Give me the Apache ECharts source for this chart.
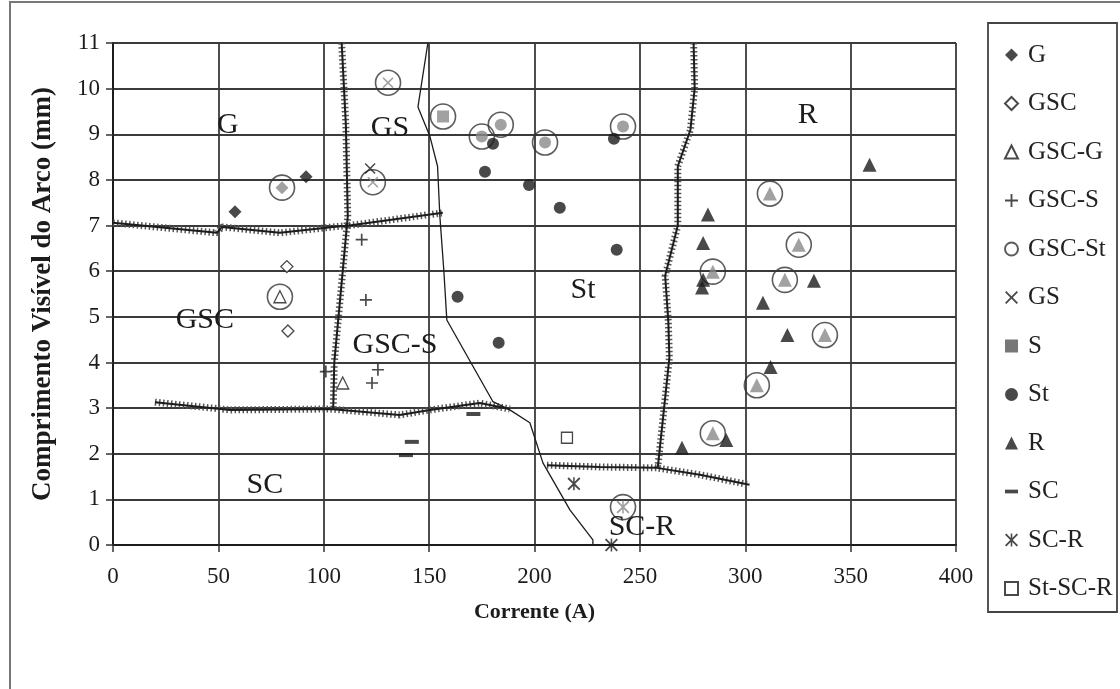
<!DOCTYPE html>
<html>
<head>
<meta charset="utf-8">
<script src="https://cdn.jsdelivr.net/npm/echarts@6/dist/echarts.min.js"></script>
<style>
  html, body { margin: 0; padding: 0; background: #fff; }
  #main { width: 1120px; height: 689px; }
</style>
</head>
<body>
<div id="main"></div>
<script>
// pontos medidos (corrente A, comprimento mm)
const gPts = [[57.9, 7.30], [91.6, 8.07]];
const gRing = [[80.2, 7.83]];
const gscPts = [[82.5, 6.10], [83, 4.69]];
const gscgPts = [[109, 3.55]];
const gscgRing = [[79.2, 5.44]];
const gscsPts = [[101, 3.8], [122.9, 3.55], [125.7, 3.84], [120, 5.37], [118, 6.69]];
const gsPts = [[122, 8.25]];
const gsRing = [[130.5, 10.13], [123.3, 7.95]];
const sRing = [[156.6, 9.39]];
const stPts = [[180.3, 8.79], [176.5, 8.18], [197.4, 7.89], [212, 7.39], [237.7, 8.9], [239, 6.47], [183, 4.43], [163.5, 5.44]];
const stRing = [[175, 8.95], [184, 9.21], [205, 8.82], [242, 9.17]];
const rPts = [[359, 8.33], [282.3, 7.24], [280, 6.62], [280, 5.81], [279.5, 5.64], [332.6, 5.79], [308.4, 5.31], [320, 4.6], [312, 3.9], [291, 2.3], [270, 2.13]];
const rRing = [[311.7, 7.70], [284.6, 5.99], [325.4, 6.58], [318.8, 5.81], [337.8, 4.6], [305.5, 3.5], [284.6, 2.45]];
const scPts = [[141.8, 2.26], [139, 1.97], [171, 2.87]];
const scrPts = [[218.7, 1.34], [236.5, 0]];
const scrRing = [[242, 0.83]];
const stscrPts = [[215.4, 2.35]];

// fronteiras entre regioes
const bndG = [[0, 7.06], [49.3, 6.84], [51.7, 6.97], [79.2, 6.84], [104.4, 6.97], [112, 7.0], [156.5, 7.28]];
const bndLeft = [[108.5, 11], [110.5, 9.2], [111.4, 7.2], [109, 6], [105, 4], [104.5, 3.0]];
const bndThin = [[149.4, 11], [144.7, 9.6], [150.4, 8.95], [154, 8.3], [155.1, 7.2], [157, 6], [158.4, 4.93], [180.3, 3.14], [188.3, 2.96], [197.8, 2.68], [204, 1.8], [216.8, 0.77], [227.7, 0.11], [227.7, 0], [216.8, 0]];
const bndSC = [[19.9, 3.13], [55.5, 2.96], [103, 2.98], [136, 2.85], [150.4, 2.96], [174, 3.11], [188.3, 2.98]];
const bndSCR = [[205.9, 1.75], [231, 1.71], [258, 1.69], [278.5, 1.54], [302, 1.32]];
const bndR = [[275.5, 11], [276, 10], [274, 9.1], [268, 8.3], [268, 7], [262, 5.9], [263.5, 4.9], [264, 4.1], [258.5, 1.7]];

const regionNames = ['G', 'GS', 'GSC', 'GSC-S', 'St', 'R', 'SC', 'SC-R'];
const regionPos = [[54.5, 9.21], [131.4, 9.14], [43.6, 4.93], [133.8, 4.39], [223, 5.59], [329.7, 9.43], [72.1, 1.32], [251, 0.39]];

const legendNames = ['G', 'GSC', 'GSC-G', 'GSC-S', 'GSC-St', 'GS', 'S', 'St', 'R', 'SC', 'SC-R', 'St-SC-R'];

const FONT = '"Liberation Serif", "DejaVu Serif", serif';
const INK = '#1c1c1c';
const GRAY = '#8a8a8a';

const plusPath = 'path://M4.3,0H5.7V4.3H10V5.7H5.7V10H4.3V5.7H0V4.3H4.3Z';
const xPath = 'path://M0,1L1,0L5,4L9,0L10,1L6,5L10,9L9,10L5,6L1,10L0,9L4,5Z';
const starPath = 'path://M0,1L1,0L5,4L9,0L10,1L6,5L10,9L9,10L5,6L1,10L0,9L4,5ZM4.4,0H5.6V10H4.4Z';
const dashPath = 'path://M0,0H14V4H0Z';

const open = { color: '#fff', borderColor: INK, borderWidth: 1.3 };
const solid = { color: INK };

function withRing(pts, ring) {
  return pts.concat(ring.map(p => ({ value: p, itemStyle: { color: GRAY } })));
}

function scatter(name, data, symbol, size, itemStyle) {
  return { name, type: 'scatter', data, symbol, symbolSize: size, itemStyle, z: 4, clip: false };
}

function boundary(data, hatched, width) {
  const out = [];
  if (hatched) {
    out.push({
      type: 'line', data, showSymbol: false, silent: true, z: 2,
      lineStyle: { color: '#555', width: 7, type: [1.5, 2.5] }
    });
  }
  out.push({
    type: 'line', data, showSymbol: false, silent: true, z: 3,
    lineStyle: { color: INK, width: width }
  });
  return out;
}

const allRings = gRing.concat(gsRing, sRing, stRing, gscgRing, rRing, scrRing);

const chart = echarts.init(document.getElementById('main'));
const option = {
  backgroundColor: '#fff',
  animation: false,
  textStyle: { fontFamily: FONT, color: INK },
  grid: { left: 113, right: 164, top: 43, bottom: 144 },
  xAxis: {
    type: 'value', min: 0, max: 400, interval: 50,
    name: 'Corrente (A)', nameLocation: 'middle', nameGap: 56,
    nameTextStyle: { fontFamily: FONT, fontWeight: 'bold', fontSize: 22, color: INK },
    axisLine: { lineStyle: { color: INK, width: 2 } },
    axisTick: { show: true, length: 7, lineStyle: { color: '#333', width: 1.5 } },
    axisLabel: { fontFamily: FONT, fontSize: 23, color: INK, margin: 20 },
    splitLine: { show: true, lineStyle: { color: '#3a3a3a', width: 1.8 } }
  },
  yAxis: {
    type: 'value', min: 0, max: 11, interval: 1,
    name: 'Comprimento Visível do Arco (mm)', nameLocation: 'middle', nameGap: 56,
    nameTextStyle: { fontFamily: FONT, fontWeight: 'bold', fontSize: 27, color: INK },
    axisLine: { show: true, lineStyle: { color: INK, width: 2 } },
    axisTick: { show: true, length: 7, lineStyle: { color: '#333', width: 1.5 } },
    axisLabel: { fontFamily: FONT, fontSize: 23, color: INK, margin: 13 },
    splitLine: { show: true, lineStyle: { color: '#3a3a3a', width: 1.8 } }
  },
  legend: {
    orient: 'vertical', left: 999, top: 36,
    itemWidth: 13, itemHeight: 13, itemGap: 20.5,
    textStyle: { fontFamily: FONT, fontSize: 25, lineHeight: 28, color: '#222', padding: [0, 0, 0, 5] },
    data: legendNames.map(n => n === 'SC' ? { name: n, icon: dashPath } : n)
  },
  graphic: [
    { type: 'rect', shape: { x: 10, y: 2, width: 1120, height: 700 }, style: { fill: 'none', stroke: '#777', lineWidth: 2 }, silent: true },
    { type: 'rect', shape: { x: 988, y: 23, width: 129, height: 589 }, style: { fill: 'none', stroke: '#444', lineWidth: 1.8 }, silent: true, z: 10 }
  ],
  series: [
    ...boundary(bndG, true, 2),
    ...boundary(bndLeft, true, 2),
    ...boundary(bndThin, false, 1.3),
    ...boundary(bndSC, true, 2),
    ...boundary(bndSCR, true, 2),
    ...boundary(bndR, true, 2),
    {
      type: 'scatter', silent: true, z: 5, symbolSize: 1, itemStyle: { color: 'rgba(0,0,0,0)' },
      data: regionNames.map((n, i) => ({ name: n, value: regionPos[i] })),
      label: {
        show: true, position: 'inside', formatter: '{b}', fontFamily: FONT, fontSize: 30,
        color: INK, textBorderWidth: 0, opacity: 1
      }
    },
    scatter('G', withRing(gPts, gRing), 'diamond', 13, solid),
    scatter('GSC', gscPts, 'diamond', 12, open),
    scatter('GSC-G', gscgPts.concat(gscgRing), 'triangle', 12, open),
    scatter('GSC-S', gscsPts, plusPath, 12, solid),
    scatter('GSC-St', allRings, 'circle', 25, { color: 'rgba(255,255,255,0)', borderColor: '#333', borderWidth: 1.6 }),
    scatter('GS', withRing(gsPts, gsRing), xPath, 11, solid),
    scatter('S', withRing([], sRing), 'rect', 12, { color: '#555' }),
    scatter('St', withRing(stPts, stRing), 'circle', 12, solid),
    scatter('R', withRing(rPts, rRing), 'triangle', 14, solid),
    scatter('SC', scPts, dashPath, [14, 4], solid),
    scatter('SC-R', withRing(scrPts, scrRing), starPath, 13, solid),
    scatter('St-SC-R', stscrPts, 'rect', 11, open)
  ]
};
chart.setOption(option);
</script>
</body>
</html>
